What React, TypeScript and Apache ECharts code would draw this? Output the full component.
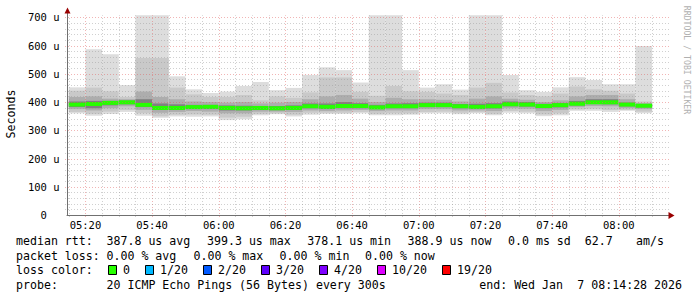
import React, { useEffect, useRef } from "react";
import * as echarts from "echarts";

// 5-minute bins (start time of each bin)
const binTimes = [
  "05:15", "05:20", "05:25", "05:30", "05:35", "05:40", "05:45", "05:50", "05:55",
  "06:00", "06:05", "06:10", "06:15", "06:20", "06:25", "06:30", "06:35", "06:40",
  "06:45", "06:50", "06:55", "07:00", "07:05", "07:10", "07:15", "07:20", "07:25",
  "07:30", "07:35", "07:40", "07:45", "07:50", "07:55", "08:00", "08:05",
];
// smoke bands in microseconds (outer -> inner) and the median
const maxV = [452, 587, 569, 460, 707, 707, 491, 445, 432, 437, 457, 471, 442, 450, 496, 523, 513, 469, 707, 707, 513, 451, 463, 444, 707, 707, 496, 442, 436, 452, 488, 478, 463, 463, 598];
const hi2V = [440, 451, 438, 418, 556, 556, 451, 427, 418, 418, 425, 406, 420, 415, 434, 487, 487, 436, 422, 457, 438, 436, 430, 425, 451, 468, 434, 425, 420, 430, 455, 445, 440, 430, 402];
const hi3V = [418, 420, 412, 410, 437, 418, 410, 402, 400, 398, 400, 395, 398, 400, 410, 420, 425, 412, 400, 415, 410, 410, 408, 402, 412, 420, 412, 408, 400, 406, 420, 425, 425, 410, 396];
const hi4V = [402, 404, 404, 405, 410, 395, 392, 390, 390, 388, 387, 386, 386, 388, 395, 395, 400, 396, 390, 395, 396, 398, 398, 393, 394, 396, 402, 400, 394, 397, 404, 410, 410, 398, 392];
const medV = [391, 393, 397, 399, 390, 379, 379, 382, 383, 379, 378, 379, 378, 379, 385, 383, 386, 386, 381, 385, 385, 389, 389, 385, 383, 385, 392, 391, 386, 389, 394, 399, 399, 391, 387];
const lo4V = [382, 378, 388, 392, 382, 372, 372, 375, 375, 370, 370, 373, 371, 372, 378, 375, 378, 378, 375, 378, 378, 382, 382, 378, 376, 377, 385, 384, 378, 381, 388, 393, 392, 385, 381];
const lo3V = [375, 370, 378, 385, 372, 362, 365, 368, 366, 360, 360, 366, 366, 365, 370, 368, 370, 372, 368, 370, 370, 375, 375, 370, 370, 368, 378, 376, 368, 372, 382, 386, 385, 378, 375];
const lo2V = [365, 358, 366, 372, 360, 350, 355, 356, 355, 345, 348, 358, 360, 355, 362, 362, 362, 365, 358, 360, 360, 365, 366, 362, 364, 358, 368, 366, 356, 360, 374, 376, 372, 372, 366];
const minV = [360, 351, 358, 365, 351, 344, 349, 348, 349, 336, 339, 353, 357, 349, 355, 358, 358, 360, 353, 353, 355, 360, 360, 357, 360, 353, 362, 360, 350, 353, 369, 369, 365, 369, 360];

// axis
const xStart = "05:14:28";
const xEnd = "08:14:28";
const xTickLabels = ["05:20", "05:40", "06:00", "06:20", "06:40", "07:00", "07:20", "07:40", "08:00"];
const yTicks = [0, 100, 200, 300, 400, 500, 600, 700];

// legend
const lossLabels = ["0", "1/20", "2/20", "3/20", "4/20", "10/20", "19/20"];
const lossColors = ["#26ff00", "#00b8ff", "#0059ff", "#5e00ff", "#7e00ff", "#dd00ff", "#ff0000"];

const toMin = (s: string) => {
  const p = s.split(":").map(Number);
  return p[0] * 60 + p[1] + (p[2] || 0) / 60;
};

const MONO = "'DejaVu Sans Mono', monospace";

export default function App() {
  const ref = useRef<HTMLDivElement>(null);
  useEffect(() => {
    if (!ref.current) return;
    const chart = echarts.init(ref.current, null, { renderer: "svg" });
    const xMin = toMin(xStart);
    const xMax = toMin(xEnd);

    const smokeData = binTimes.map((t, i) => [
      toMin(t), minV[i], lo2V[i], lo3V[i], lo4V[i], medV[i], hi4V[i], hi3V[i], hi2V[i], maxV[i],
    ]);

    // grid line positions
    const vLines: number[][] = [];
    for (let m = Math.ceil(xMin / 5) * 5; m < xMax; m += 5) vLines.push([m, m % 20 === 0 ? 1 : 0]);
    const hLines: number[][] = [];
    for (let v = 20; v <= 700; v += 20) hLines.push([v, v % 100 === 0 ? 1 : 0]);

    const bandColors = ["#dddddd", "#c9c9c9", "#adadad", "#808080"];
    const minorColor = "rgba(150,150,150,0.45)";
    const majorColor = "rgba(225,90,90,0.45)";

    const legendTexts: any[] = [];
    const txt = (x: number, y: number, s: string, align = "left") =>
      legendTexts.push({
        type: "text",
        x,
        y,
        silent: true,
        style: { text: s, fill: "#000", font: `11.6px ${MONO}`, textAlign: align, textVerticalAlign: "middle" },
      });
    const L1 = 241, L2 = 255.5, L3 = 270, L4 = 284.5;
    txt(16, L1, "median rtt:");
    txt(106.5, L1, "387.8 us avg");
    txt(207, L1, "399.3 us max");
    txt(307.3, L1, "378.1 us min");
    txt(407.6, L1, "388.9 us now");
    txt(508, L1, "0.0 ms sd");
    txt(584.7, L1, "62.7");
    txt(636, L1, "am/s");
    txt(16, L2, "packet loss:");
    txt(106.5, L2, "0.00 % avg");
    txt(193.5, L2, "0.00 % max");
    txt(279.6, L2, "0.00 % min");
    txt(365, L2, "0.00 % now");
    txt(16, L3, "loss color:");
    let bx = 108;
    lossLabels.forEach((lab, i) => {
      legendTexts.push({
        type: "rect",
        shape: { x: bx + 0.5, y: L3 - 4.5, width: 8, height: 9 },
        style: { fill: lossColors[i], stroke: "#000", lineWidth: 1 },
      });
      txt(bx + 15, L3, lab);
      bx = bx + 15 + lab.length * 7 + 15;
    });
    txt(16, L4, "probe:");
    txt(106.5, L4, "20 ICMP Echo Pings (56 Bytes) every 300s");
    txt(563, L4, "end: Wed Jan", "right");
    txt(682, L4, "7 08:14:28 2026", "right");

    const option: any = {
      animation: false,
      backgroundColor: "#ffffff",
      grid: { left: 67, top: 17.3, width: 600, height: 197.7, containLabel: false },
      xAxis: {
        type: "value",
        min: xMin,
        max: xMax,
        axisLine: { show: true, onZero: false, lineStyle: { color: "#707070", width: 1 } },
        axisTick: { show: false },
        splitLine: { show: false },
        axisLabel: {
          customValues: xTickLabels.map(toMin),
          formatter: (v: number) => {
            const h = Math.floor(v / 60);
            const m = Math.round(v - h * 60);
            return `${String(h).padStart(2, "0")}:${String(m).padStart(2, "0")}`;
          },
          fontFamily: MONO,
          fontSize: 10.5,
          color: "#000",
          margin: 4,
        },
      },
      yAxis: {
        type: "value",
        min: 0,
        max: 700,
        interval: 100,
        axisLine: { show: true, lineStyle: { color: "#707070", width: 1 } },
        axisTick: { show: false },
        splitLine: { show: false },
        axisLabel: {
          customValues: yTicks,
          formatter: (v: number) => (v === 0 ? "0\u00a0\u00a0" : `${v} u`),
          fontFamily: MONO,
          fontSize: 10.5,
          color: "#000",
          margin: 7.5,
        },
      },
      series: [
        {
          type: "custom",
          name: "smoke",
          clip: false,
          z: 2,
          data: smokeData,
          encode: { x: 0, y: 9 },
          renderItem: (params: any, api: any) => {
            const t = api.value(0);
            const xa = api.coord([t, 0])[0];
            const xb = api.coord([t + 5, 0])[0];
            const yv = (k: number) => api.coord([t, api.value(k)])[1];
            const children: any[] = [];
            const pairs = [[1, 9], [2, 8], [3, 7], [4, 6]];
            pairs.forEach(([lo, hi], j) => {
              const y1 = yv(hi);
              const y2 = yv(lo);
              children.push({
                type: "rect",
                shape: { x: xa, y: y1, width: xb - xa, height: y2 - y1 },
                style: { fill: bandColors[j] },
              });
            });
            const ym = yv(5);
            children.push({
              type: "rect",
              shape: { x: xa, y: ym - 2, width: xb - xa, height: 4 },
              style: { fill: "#26ff00" },
            });
            return { type: "group", children };
          },
        },
        {
          type: "custom",
          name: "vgrid",
          clip: false,
          z: 5,
          silent: true,
          data: vLines,
          encode: { x: 0 },
          renderItem: (params: any, api: any) => {
            const m = api.value(0);
            const x = Math.round(api.coord([m, 0])[0]) + 0.5;
            const y0 = api.coord([m, 0])[1] + 2;
            const y1 = api.coord([m, 707])[1];
            return {
              type: "line",
              shape: { x1: x, y1: y0, x2: x, y2: y1 },
              style: { stroke: api.value(1) ? majorColor : minorColor, lineWidth: 1, lineDash: [1, 2] },
            };
          },
        },
        {
          type: "custom",
          name: "hgrid",
          clip: false,
          z: 5,
          silent: true,
          data: hLines,
          encode: { y: 0 },
          renderItem: (params: any, api: any) => {
            const v = api.value(0);
            const y = Math.round(api.coord([xMin, v])[1]) + 0.5;
            const x0 = api.coord([xMin, v])[0] - 2;
            const x1 = api.coord([xMax, v])[0] + 2;
            return {
              type: "line",
              shape: { x1: x0, y1: y, x2: x1, y2: y },
              style: { stroke: api.value(1) ? majorColor : minorColor, lineWidth: 1, lineDash: [1, 2] },
            };
          },
        },
      ],
      graphic: [
        { type: "line", shape: { x1: 67.5, y1: 18, x2: 67.5, y2: 12 }, style: { stroke: "#707070", lineWidth: 1 } },
        { type: "line", shape: { x1: 667, y1: 215.5, x2: 670, y2: 215.5 }, style: { stroke: "#707070", lineWidth: 1 } },
        { type: "polygon", shape: { points: [[64.5, 13.5], [67.5, 7.5], [70.5, 13.5]] }, style: { fill: "#990000" } },
        { type: "polygon", shape: { points: [[668.5, 212], [674.5, 215.5], [668.5, 219]] }, style: { fill: "#990000" } },
        {
          type: "text",
          x: 11,
          y: 114,
          rotation: Math.PI / 2,
          style: { text: "Seconds", fill: "#000", font: `11.6px ${MONO}`, textAlign: "center", textVerticalAlign: "middle" },
        },
        {
          type: "text",
          x: 687,
          y: 60,
          rotation: -Math.PI / 2,
          style: { text: "RRDTOOL / TOBI OETIKER", fill: "#b0b0b0", font: `8.2px ${MONO}`, textAlign: "center", textVerticalAlign: "middle" },
        },
        ...legendTexts,
      ],
    };
    chart.setOption(option);
    return () => chart.dispose();
  }, []);
  return <div ref={ref} style={{ width: 697, height: 297, position: "absolute", left: 0, top: 0 }} />;
}
